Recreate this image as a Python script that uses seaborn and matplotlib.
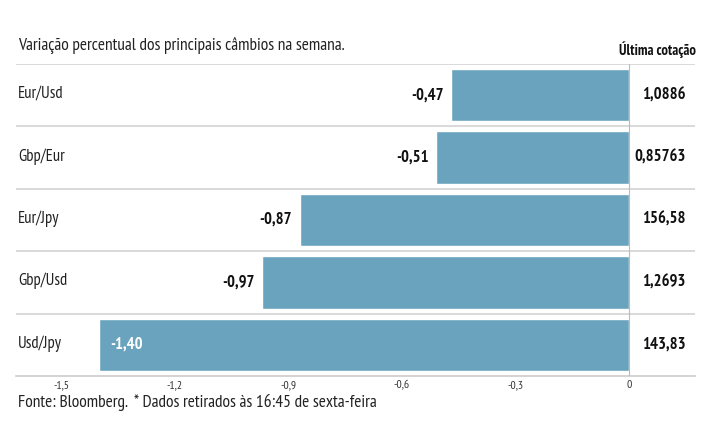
import numpy as np
import seaborn as sns
import matplotlib.pyplot as plt
import pandas as pd

pares = ["Eur/Usd", "Gbp/Eur", "Eur/Jpy", "Gbp/Usd", "Usd/Jpy"]
variacao = [-0.47, -0.51, -0.87, -0.97, -1.40]
cotacao = ["1,0886", "0,85763", "156,58", "1,2693", "143,83"]
ticks = [-1.5, -1.2, -0.9, -0.6, -0.3, 0]

sns.set_theme(style="white")
plt.rcParams['font.family'] = ['PT Sans Narrow', 'DejaVu Sans']

df = pd.DataFrame({"par": pares, "var": variacao})

fig = plt.figure(figsize=(7.15, 4.45), dpi=100)
ax = fig.add_axes([16/715, 1-376/445, (695-16)/715, (376-64)/445])

sns.barplot(data=df, x="var", y="par", color="#6aa3bd", saturation=1,
            width=0.84, ax=ax, orient="h")

ax.set_xlim(-1.619, 0.174)
ax.set_ylim(4.5, -0.5)
ax.set_xlabel("")
ax.set_ylabel("")
ax.set_yticks([])
ax.set_xticks(ticks)
ax.set_xticklabels([("%g" % t).replace(".", ",") for t in ticks], fontsize=8.5, color="#333333")
ax.tick_params(axis="x", direction="in", length=9, width=0.8, color="#bbbbbb", pad=3)

for s in ["top", "left", "right"]:
    ax.spines[s].set_visible(False)
ax.spines["bottom"].set_color("#cccccc")
ax.spines["bottom"].set_linewidth(1.2)

# linhas separadoras
for y in np.arange(-0.5, 4.5, 1):
    ax.axhline(y, color="#d3d3d3", lw=1.2, zorder=0)
ax.axvline(0, color="#bbbbbb", lw=0.8, zorder=3)

for i, (p, v, c) in enumerate(zip(pares, variacao, cotacao)):
    ax.text(-1.613, i - 0.02, p, ha="left", va="center", fontsize=12, color="#222222")
    lab = ("%.2f" % v).replace(".", ",")
    if v < -1.2:
        ax.text(v + 0.03, i, lab, ha="left", va="center", fontsize=12,
                color="white", fontweight="bold")
    else:
        ax.text(v - 0.02, i, lab, ha="right", va="center", fontsize=12,
                color="#111111", fontweight="bold")
    ax.text(0.15, i, c, ha="right", va="center", fontsize=12,
            color="#111111", fontweight="bold")

ax.text(0.175, -0.6, "Última cotação", ha="right", va="bottom", fontsize=10.5,
        fontweight="bold", color="#111111")

fig.text(18/715, 1-45/445, "Variação percentual dos principais câmbios na semana.",
         ha="left", va="center", fontsize=12.5, color="#222222")
fig.text(18/715, 1-402/445, "Fonte: Bloomberg.  * Dados retirados às 16:45 de sexta-feira",
         ha="left", va="center", fontsize=12.5, color="#222222")

fig.savefig("out.png", dpi=100)
